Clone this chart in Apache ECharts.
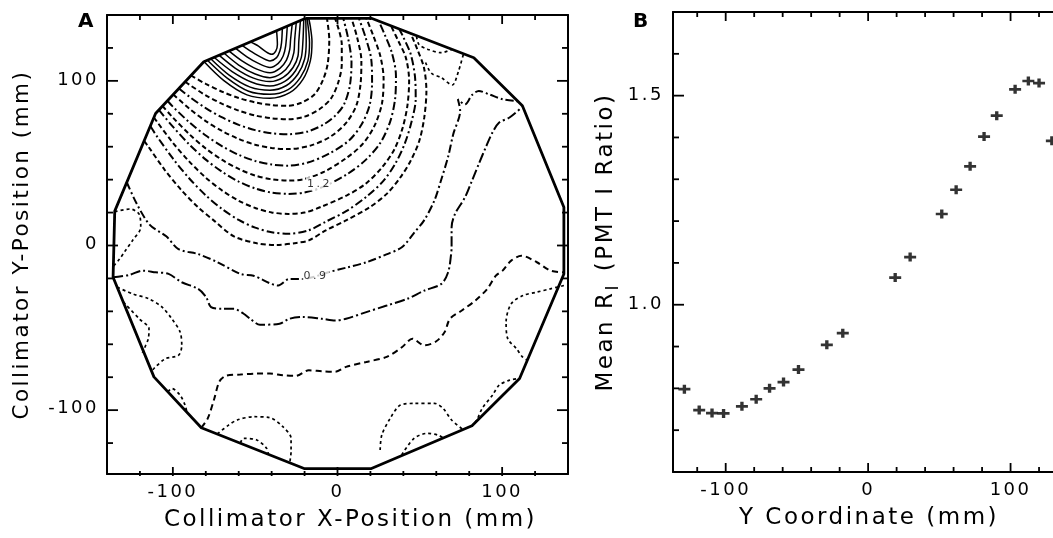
<!DOCTYPE html>
<html><head><meta charset="utf-8">
<script src="https://cdn.jsdelivr.net/npm/echarts@6.0.0/dist/echarts.min.js"></script>
<style>
html,body{margin:0;padding:0;background:#fff;}
#c{width:1053px;height:538px;}
</style></head><body><div id="c"></div>
<script>
// wide letter spacing like the original typeface (applied to measuring and drawing alike)
(function () {
  const p = CanvasRenderingContext2D.prototype;
  const fT = p.fillText, sT = p.strokeText, mT = p.measureText;
  p.fillText = function () { this.letterSpacing = '2.5px'; return fT.apply(this, arguments); };
  p.strokeText = function () { this.letterSpacing = '2.5px'; return sT.apply(this, arguments); };
  p.measureText = function () { this.letterSpacing = '2.5px'; return mT.apply(this, arguments); };
})();

// ---------- Panel A: tick values ----------
const xMajorA = [-100, 0, 100];
const xMinorA = [-120, -100, -80, -60, -40, -20, 0, 20, 40, 60, 80, 100, 120];
const yMajorA = [-100, 0, 100];
const yMinorA = [-120, -100, -80, -60, -40, -20, 0, 20, 40, 60, 80, 100, 120];

// ---------- Panel A: collimator boundary (mm) ----------
const boundary = [[-19.3,138],[20.6,138],[82.8,113.9],[112.3,84.6],[137.5,22.8],[137.5,-18],[110.6,-81.7],[81.7,-110.5],[20.6,-136.6],[-20.3,-136.6],[-82.7,-111.7],[-111.5,-80.7],[-136.3,-19.9],[-135.3,20.4],[-110.5,79.9],[-81.2,111.5],[-19.3,138]];

// ---------- Panel A: solid contours (high ratio) ----------
const contS1 = [[-81,111.5],[-69,100],[-55,91.3],[-41,89.2],[-29,92.6],[-21,100.7],[-16.5,112],[-15.5,124],[-16.5,133],[-17.5,138]];
const contS2 = [[-79,112.4],[-67,101.5],[-54,93.5],[-41,91.6],[-30,94.5],[-22.5,102],[-18,112],[-17,123],[-18.5,138]];
const contS3 = [[-77,113.3],[-66,103.5],[-53,96],[-41,94.1],[-31,97],[-24,104],[-20,113],[-19,124],[-19.3,137.9]];
const contS4 = [[-75,114.2],[-64,105.5],[-52,99],[-41,96.7],[-32,99.5],[-25.5,106],[-22,114],[-21,124],[-20.5,137.4]];
const contS5 = [[-72,115.5],[-62,107.5],[-51,101.5],[-41,99.4],[-33,102],[-27,108],[-24,115],[-23.5,124],[-22.5,136.7]];
const contS6 = [[-69,116.8],[-60,109.5],[-50,104],[-41,101.8],[-34,104.5],[-29,110],[-26.5,117],[-26,125],[-25,135.7]];
const contS7 = [[-66,118.1],[-58,112],[-49,107],[-41,104.8],[-35,107.5],[-31,112.5],[-29,119],[-28.5,125],[-27.5,134.6]];
const contS8 = [[-62,119.8],[-55,114.5],[-48,110.5],[-41,108],[-36,110.5],[-33,115],[-31.5,121],[-30.5,133.3]];
const contS9 = [[-58,121.5],[-52,117.5],[-46,114],[-41,112],[-37,114],[-35,118],[-34,123],[-33.5,132]];
const contS10 = [[-53,123.7],[-48,121],[-44,118],[-40,116],[-37.5,118],[-36.5,122],[-37,130.5]];

// ---------- Panel A: dashed arcs ----------
const contD1 = [[-89,103.1],[-80,98],[-70,93.2],[-60,89.4],[-50,86.7],[-40,85.1],[-30,84.6],[-22,86.5],[-14,91.5],[-9,100],[-6,110],[-5,125],[-6.4,138]];
const contD2 = [[-92.5,99.3],[-90,97.5],[-80,91],[-70,85.8],[-60,81.7],[-50,78.7],[-40,77],[-30,76.4],[-20,78],[-11,82.5],[-4,89],[0.5,99],[2.6,110],[2.6,122],[-1.5,138]];
const contD3 = [[-96.3,95.2],[-90,90.2],[-80,83.2],[-70,77.5],[-60,73],[-50,69.8],[-40,67.9],[-30,67.3],[-18,69],[-8,73.5],[-1,79],[4,85.5],[7.5,97],[8.5,111],[6.5,125.5],[3.5,138]];
const contD4 = [[-99.7,91.5],[-90,82.9],[-80,75.3],[-70,69.2],[-60,64.4],[-50,60.9],[-40,58.9],[-30,58.2],[-16,60.5],[-4,66],[5.5,74.5],[11.5,85],[14,98],[14.5,112],[12,126],[8.5,138]];
const contD5 = [[-103.3,87.7],[-100,84.1],[-90,74.6],[-80,66.5],[-70,59.9],[-60,54.7],[-50,51],[-40,48.8],[-30,48.1],[-18,50],[-5,55.5],[7,63.5],[14.5,73],[19.5,85],[21,99],[20.5,113],[17,126.5],[13,138]];
const contD6 = [[-106.3,84.5],[-100,77.5],[-90,67.3],[-80,58.6],[-70,51.6],[-60,46.1],[-50,42.1],[-40,39.8],[-30,39],[-20,40],[-8,44.5],[5,52.5],[15,61],[22.5,72.5],[27,86],[28,101],[26,115],[21.5,128],[17.5,138]];
const contD7 = [[-108.5,82.1],[-100,71.9],[-90,61],[-80,51.8],[-70,44.3],[-60,38.4],[-50,34.2],[-40,31.7],[-30,30.9],[-20,31.8],[-8,35.5],[6,43],[17,51.5],[26,62],[32,75],[35,89],[35.5,103],[33,117],[28.5,128.5],[25,136.3]];
const contD8 = [[-111.5,77.5],[-110,75.4],[-100,62.1],[-90,50.6],[-80,40.8],[-70,32.9],[-60,26.7],[-50,22.3],[-40,19.6],[-30,18.7],[-20,19.5],[-10,23],[5.7,30],[17,37],[27,47],[34.5,58],[39.5,71],[42.5,85],[43.5,100],[41.5,114],[37,124],[32.5,133.4]];
const contD9 = [[-113.6,72.1],[-110,66.5],[-100,52.5],[-90,40.3],[-80,30],[-70,21.6],[-60,15],[-50,10.3],[-40,7.5],[-30,6.6],[-18,8.5],[-7,14],[5.5,20.5],[18,29.5],[28,39],[35.5,50],[41,62],[45,75],[47.5,89],[47,103],[44.5,116],[40,126.5],[37.5,131.5]];
const contD10 = [[-117.5,63.2],[-115,59.9],[-105,45.6],[-95,33.4],[-84.7,22.8],[-75,14.6],[-62.9,5],[-49,0.8],[-37,-0.3],[-25,1],[-17.4,2.5],[-7.4,8.5],[5.2,14.7],[19.6,22.8],[29.9,30.9],[38.2,41],[44.5,51.2],[49.7,63.3],[52.7,77.5],[54,93.7],[52.5,108],[48.5,119],[44.5,128.7]];

// ---------- Panel A: lower contours ----------
const cont09 = [[-128,38],[-122,25],[-114,12],[-104,5],[-96.6,-2.8],[-84.7,-5.8],[-72.8,-10.8],[-59,-17.9],[-51,-19],[-36,-25],[-29.3,-21],[-21.3,-21],[-15.3,-20],[-5.5,-16.9],[5.7,-14],[17.5,-10.8],[29.7,-6],[39.3,-1.5],[46.4,7],[52.7,14.9],[58.9,27],[62.9,39.2],[67.3,54],[70.3,67.3],[74.5,81.5],[73.1,88.6],[77.5,85.5],[81.7,91.2],[85.8,93.7],[92.1,91.6],[100.3,88.6],[109.5,87.4]];
const cont08 = [[-136.3,-19.9],[-126.3,-18.5],[-118.4,-15.9],[-110.5,-16.9],[-102.6,-17.9],[-94.6,-23],[-84.7,-27],[-79.8,-32],[-76.8,-38.2],[-69.9,-39.2],[-62.9,-39.2],[-57,-42.2],[-53,-45.3],[-47.1,-48.9],[-35.2,-48.3],[-29.3,-45.3],[-21.3,-44.2],[-9.4,-45.3],[-1.5,-46.3],[5.2,-45.3],[17.5,-41.2],[29.9,-37.2],[42.4,-33.1],[52.7,-28.1],[63.1,-24],[67.2,-16.9],[68.9,-6.8],[69.3,-1.5],[69.3,10.6],[71.4,18.7],[77.5,28.9],[81.7,39],[85.8,49.1],[90,59.2],[94.1,68.3],[98.2,74.4],[104.5,77.5],[112.3,84]];
const cont07 = [[-82.7,-111.7],[-78.8,-106],[-74.8,-93.9],[-71.8,-83.7],[-67.9,-80.1],[-59,-79.3],[-49,-78.7],[-41.1,-78.7],[-33.2,-79.7],[-25.3,-80.1],[-17.4,-76.7],[-9.4,-77.3],[-1.5,-77.6],[5.2,-74.6],[17.5,-71.6],[29.9,-68.5],[39.3,-62.5],[45.5,-57.4],[52.7,-61.5],[60,-59],[65.1,-53.3],[68.3,-45.3],[75.5,-40.2],[83.8,-34.1],[91,-27],[96.2,-19],[100.3,-15.9],[105.5,-9.8],[111.7,-6.8],[121.1,-10.8],[129.3,-15.9],[137.5,-17]];
const loopL1 = [[-135.3,20],[-126,21.7],[-120.5,18.5],[-119.5,10.5],[-124.5,2.5],[-129,-4],[-132.5,-9],[-136,-13]];
const loopLL1 = [[-133.8,-26],[-124.4,-30.1],[-114.5,-33.1],[-106.5,-38.2],[-100.6,-45.3],[-95.6,-53.3],[-94.6,-61.5],[-96.6,-67.6],[-104.5,-69.6],[-111.5,-75.6],[-112.8,-77.5]];
const loopLL2 = [[-130.1,-35],[-120.4,-45.3],[-114.5,-51.3],[-114.9,-57.4],[-117.4,-63.5],[-118.5,-66]];
const loopLL3 = [[-103,-89.8],[-100.6,-87.8],[-95.6,-91.9],[-92.6,-97.9],[-91.5,-102.2]];
const loopBL1 = [[-73,-115.5],[-66,-110],[-60.9,-107],[-51,-105],[-41.1,-105.6],[-33.2,-111.1],[-28.2,-118.2],[-28.2,-126.2],[-29,-133]];
const loopBL2 = [[-59,-121],[-57,-118.2],[-49,-119.2],[-43.1,-124.2],[-42,-127.8]];
const loopB1 = [[25.9,-125.3],[26.9,-116.2],[32,-106],[38.2,-97.9],[46.5,-96.9],[58.9,-96.9],[64.1,-99.9],[69.3,-107],[76.2,-112.8]];
const loopB2 = [[39,-128.3],[46.5,-118.2],[54.8,-115.1],[61,-116.2],[64.2,-117.9]];
const loopR1 = [[137.5,-25],[129.3,-27],[121.1,-29],[112.7,-31.1],[105.5,-36.1],[102.4,-47.3],[103.4,-57.4],[108.7,-63.5],[112.3,-68.5],[115.3,-70.6]];
const loopR2 = [[83.5,-108.7],[84.7,-107],[87.9,-99.9],[94.1,-91.9],[98.2,-85.8],[104.5,-82.7],[109.6,-81.7]];
const lineE1 = [[48,127],[49.5,122],[55,119],[63,117],[69.4,119]];
const lineV = [[53.5,111],[57,104.5],[63,101.8],[69.7,97.3],[73.5,105.8],[76.5,116.3]];
const contourLabels = [[-13,-19.5,'0.9'],[-11,37,'1.2']];

// ---------- Panel B ----------
const xMajorB = [-100, 0, 100];
const xMinorB = [-120, -100, -80, -60, -40, -20, 0, 20, 40, 60, 80, 100, 120];
const yMajorB = [1.0, 1.5];
const yMinorB = [0.7, 0.8, 0.9, 1.0, 1.1, 1.2, 1.3, 1.4, 1.5, 1.6];
const posB = [-129, -118.6, -109.6, -101.5, -88.6, -78.6, -69.2, -59.4, -48.9, -29, -17.8, 19, 29.5, 51.7, 61.8, 71.6, 81.4, 90.3, 103.2, 112.5, 120, 129];
const ratioB = [0.798, 0.748, 0.741, 0.74, 0.757, 0.774, 0.80, 0.815, 0.845, 0.904, 0.932, 1.065, 1.114, 1.217, 1.275, 1.331, 1.402, 1.452, 1.515, 1.535, 1.53, 1.392];

// ---------- build ----------
const FONT = 'DejaVu Sans';
const chart = echarts.init(document.getElementById('c'), null, {renderer: 'canvas'});

function axis(gi, pos, min, max, extra) {
  return Object.assign({
    type: 'value', gridIndex: gi, position: pos, min: min, max: max,
    axisLine: {show: true, onZero: false, lineStyle: {color: '#000', width: 2}},
    axisTick: {show: false},
    axisLabel: {show: false},
    splitLine: {show: false},
    silent: true
  }, extra || {});
}
function labels(vals, margin, fmt) {
  return {show: true, customValues: vals, margin: margin, color: '#000', fontSize: 18, fontFamily: FONT, formatter: fmt};
}
const nameStyle = {color: '#000', fontSize: 23, fontFamily: FONT};

const xAxes = [
  axis(0, 'bottom', -140, 140, {axisLabel: labels(xMajorA, 8), name: 'Collimator X-Position (mm)', nameLocation: 'middle', nameGap: 30, nameTextStyle: Object.assign({padding: [0, 0, 0, 26]}, nameStyle)}),
  axis(0, 'top', -140, 140),
  axis(1, 'bottom', -137, 129.8, {axisLabel: labels(xMajorB, 8), name: 'Y Coordinate (mm)', nameLocation: 'middle', nameGap: 32, nameTextStyle: Object.assign({padding: [0, 0, 0, 12]}, nameStyle)}),
  axis(1, 'top', -137, 129.8),
  axis(2, 'bottom', -140, 140, {axisLine: {show: false}})
];
const yAxes = [
  axis(0, 'left', -140, 140, {axisLabel: labels(yMajorA, 8), name: 'Collimator Y-Position (mm)', nameLocation: 'middle', nameGap: 72,
    nameTextStyle: {color: '#000', fontSize: 21.5, fontFamily: FONT}}),
  axis(0, 'right', -140, 140),
  axis(1, 'left', 0.6, 1.7, {axisLabel: labels(yMajorB, 9, v => v.toFixed(1)),
    name: '{a|Mean R}{s|I}{b| (PMT I Ratio)}', nameLocation: 'middle', nameGap: 50,
    nameTextStyle: {color: '#000', fontFamily: FONT, rich: {
      a: {fontSize: 23, lineHeight: 34, fontFamily: FONT, color: '#000'},
      s: {fontSize: 17, lineHeight: 17, verticalAlign: 'bottom', fontFamily: FONT, color: '#000', padding: [0, 2, 0, 0]},
      b: {fontSize: 23, lineHeight: 34, fontFamily: FONT, color: '#000'}
    }}}),
  axis(1, 'right', 0.6, 1.7, {axisLine: {show: false}}),
  axis(2, 'left', -140, 140, {axisLine: {show: false}})
];

// inward tick marks, placed through the axis scales (drawn on their own top layer)
function tickSeries(xi, yi, xr, yr, xTicks, xMajors, yTicks, yMajors, rightSide) {
  return {type: 'custom', coordinateSystem: 'cartesian2d', xAxisIndex: xi, yAxisIndex: yi,
    data: [[(xr[0] + xr[1]) / 2, (yr[0] + yr[1]) / 2]], silent: true, clip: false, zlevel: 2, z: 1, animation: false,
    renderItem: function (params, api) {
      const kids = [];
      const st = () => ({stroke: '#000', lineWidth: 1.8, fill: null});
      xTicks.forEach(v => {
        const L = xMajors.indexOf(v) >= 0 ? 9 : 5;
        const b = api.coord([v, yr[0]]), t = api.coord([v, yr[1]]);
        kids.push({type: 'line', shape: {x1: b[0], y1: b[1], x2: b[0], y2: b[1] - L}, style: st()});
        kids.push({type: 'line', shape: {x1: t[0], y1: t[1], x2: t[0], y2: t[1] + L}, style: st()});
      });
      yTicks.forEach(v => {
        const L = yMajors.indexOf(v) >= 0 ? 11 : 6;
        const l = api.coord([xr[0], v]), r = api.coord([xr[1], v]);
        kids.push({type: 'line', shape: {x1: l[0], y1: l[1], x2: l[0] + L, y2: l[1]}, style: st()});
        if (rightSide) kids.push({type: 'line', shape: {x1: r[0], y1: r[1], x2: r[0] - L, y2: r[1]}, style: st()});
      });
      return {type: 'group', children: kids};
    }};
}

function contour(data, dash, width) {
  return {type: 'line', xAxisIndex: 0, yAxisIndex: 0, data: data, symbol: 'none', smooth: 0.3,
    lineStyle: {color: '#000', width: width, type: dash, cap: 'butt'}, silent: true, z: 3, animation: false};
}
const DASH = [5, 3], DASHDOT = [8, 3, 2, 3], LONGDD = [10, 3, 2, 3], DOT = [3, 3], MED = [6, 4];
const series = [];
series.push({type: 'line', xAxisIndex: 0, yAxisIndex: 0, data: boundary, symbol: 'none', smooth: false,
  lineStyle: {color: '#000', width: 2.8, join: 'round'}, silent: true, z: 4, animation: false});
[contS1, contS2, contS3, contS4, contS5, contS6, contS7, contS8, contS9, contS10].forEach(d => series.push(contour(d, 'solid', 1.5)));
const dArcs = [contD1, contD2, contD3, contD4, contD5, contD6, contD7, contD8, contD9, contD10];
const dStyles = [DASH, DASH, DASHDOT, DASH, DASHDOT, DASH, DASHDOT, DASH, DASHDOT, DASH];
dArcs.forEach((d, i) => series.push(contour(d, dStyles[i], 2)));
series.push(contour(cont09, DASHDOT, 2));
series.push(contour(cont08, LONGDD, 2));
series.push(contour(cont07, MED, 2));
[loopL1, loopLL1, loopLL2, loopLL3, loopBL1, loopBL2, loopB1, loopB2, loopR1, loopR2, lineE1, lineV].forEach(d => series.push(contour(d, DOT, 1.7)));
series.push({type: 'scatter', xAxisIndex: 0, yAxisIndex: 0, data: contourLabels, symbolSize: 0, silent: true, z: 6,
  label: {show: true, position: 'inside', formatter: p => p.data[2], fontSize: 11, fontFamily: FONT, color: '#000', backgroundColor: '#fff', padding: [0, 1]}});
// panel A ticks: on an overlay grid of identical extent, in a separate top layer
series.push(tickSeries(4, 4, [-140, 140], [-140, 140], xMinorA, xMajorA, yMinorA, yMajorA, true));

series.push({type: 'scatter', xAxisIndex: 2, yAxisIndex: 2, data: posB.map((x, i) => [x, ratioB[i]]),
  symbol: 'path://M0,3.5 H3.6 V0 H6.4 V3.5 H10 V6.5 H6.4 V10 H3.6 V6.5 H0 Z', symbolSize: [12, 9],
  itemStyle: {color: '#000'}, silent: true, z: 5, clip: false, animation: false});
series.push(tickSeries(2, 2, [-137, 129.8], [0.6, 1.7], xMinorB, xMajorB, yMinorB, yMajorB, false));

chart.setOption({
  animation: false,
  backgroundColor: '#fff',
  textStyle: {fontFamily: FONT},
  title: [
    {text: 'A', left: 73, top: 6, textStyle: {fontSize: 20, fontWeight: 'bold', color: '#000', fontFamily: FONT}},
    {text: 'B', left: 628, top: 6, textStyle: {fontSize: 20, fontWeight: 'bold', color: '#000', fontFamily: FONT}}
  ],
  grid: [
    {left: 107, top: 15, width: 461, height: 461, containLabel: false},
    {left: 673, top: 12, width: 380, height: 460, containLabel: false},
    {left: 107, top: 15, width: 461, height: 461, containLabel: false}
  ],
  xAxis: xAxes,
  yAxis: yAxes,
  series: series
});
</script></body></html>
